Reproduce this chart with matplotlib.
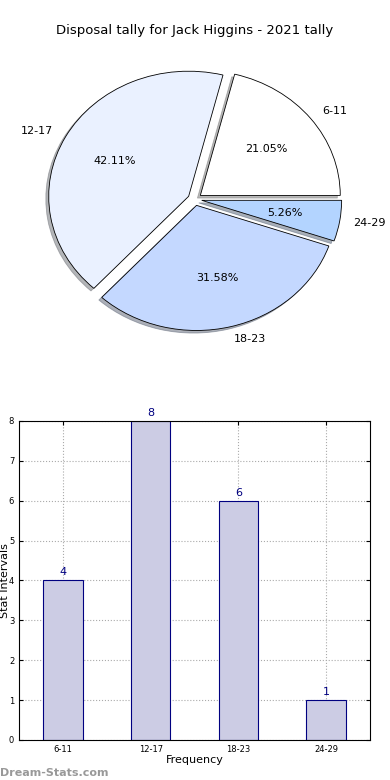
import matplotlib
matplotlib.use("Agg")
import matplotlib.pyplot as plt

title = "Disposal tally for Jack Higgins - 2021 tally"
bins = ["6-11", "12-17", "18-23", "24-29"]
counts = [4, 8, 6, 1]
pie_colors = ["#ffffff", "#eaf1ff", "#c4d8ff", "#b3d4ff"]

fig = plt.figure(figsize=(3.9, 7.8), dpi=100)

# pie on top
ax1 = fig.add_axes([0.051, 0.544, 0.897, 0.401])
ax1.pie(counts, labels=bins, colors=pie_colors, autopct="%1.2f%%",
        explode=[0.05] * len(counts),
        shadow={"ox": -0.015, "oy": -0.015, "shade": 0.55}, startangle=0,
        wedgeprops={"edgecolor": "black", "linewidth": 0.6},
        textprops={"fontsize": 8})
ax1.set_aspect("auto")
ax1.set_xlim(-1.25, 1.25)
ax1.set_ylim(-1.25, 1.25)
fig.text(0.5, 0.961, title, ha="center", va="center", fontsize=9.5)

# bar chart below
ax2 = fig.add_axes([0.049, 0.0513, 0.9, 0.409])
x = range(len(bins))
ax2.bar(x, counts, width=0.45, color="#cccce4", edgecolor="navy", linewidth=0.8, zorder=2)
for i, c in zip(x, counts):
    ax2.text(i, c + 0.08, str(c), ha="center", va="bottom", color="navy", fontsize=8)
ax2.set_xlim(-0.5, 3.5)
ax2.set_ylim(0, 8)
ax2.set_xticks(list(x))
ax2.set_xticklabels(bins)
ax2.tick_params(direction="in", labelsize=6, top=True, right=True, length=3)
ax2.grid(True, linestyle=":", color="#aaaaaa", linewidth=0.8, zorder=0)
ax2.set_xlabel("Frequency", fontsize=8, labelpad=1)
ax2.set_ylabel("Stat Intervals", fontsize=8)
ax2.yaxis.set_label_coords(-0.025, 0.5)

fig.text(0.0, 0.003, "Dream-Stats.com", color="#999999", fontsize=8, fontweight="bold", ha="left", va="bottom")

plt.savefig("out.png", dpi=100)
